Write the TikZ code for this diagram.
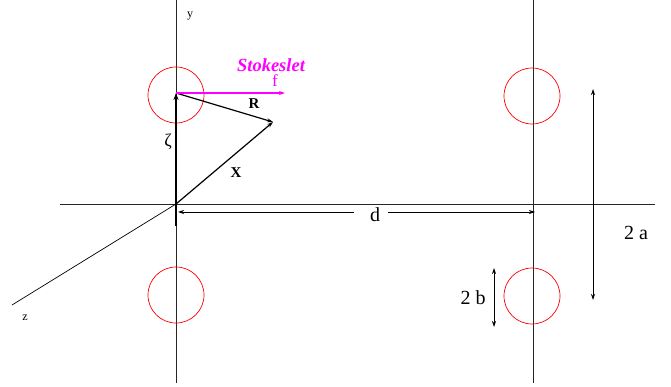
\documentclass[tikz,border=0pt]{standalone}
\usepackage{fontspec}
\setmainfont{Liberation Serif}
\usetikzlibrary{arrows.meta}
\definecolor{mag}{RGB}{255,0,255}
\begin{document}
\begin{tikzpicture}[x=1pt,y=-1pt,
  axis/.style={line width=0.8pt,black!85},
  ring/.style={red,line width=0.7pt},
  arr/.style={-{Stealth[length=6pt,width=4pt]},line width=0.8pt},
  darr/.style={{Stealth[length=6pt,width=4pt]}-{Stealth[length=6pt,width=4pt]},line width=0.8pt},
  vec/.style={-{Stealth[length=7pt,width=5pt]},line width=1.6pt},
  lbl/.style={inner sep=0pt}]
\useasboundingbox (0,0) rectangle (671,387);
% coordinates
\coordinate (O) at (176,204);
\coordinate (Ltop) at (176,0);
\coordinate (Lbot) at (176,383);
\coordinate (Rtop) at (533,0);
\coordinate (Rbot) at (533,383);
\coordinate (Hl) at (60,204);
\coordinate (Hr) at (655,204);
\coordinate (Zend) at (12,305);
\coordinate (P) at (176,93);
\coordinate (Q) at (273,122);
\coordinate (F) at (285,93);
\coordinate (Zs) at (176,226);
% axes
\draw[axis] (Ltop) -- (Lbot);
\draw[axis] (Rtop) -- (Rbot);
\draw[axis] (Hl) -- (Hr);
\draw[line width=0.7pt] (O) -- (Zend);
% circles
\draw[ring] (176,95) circle (28);
\draw[ring] (176,295) circle (28);
\draw[ring] (532,96) circle (28);
\draw[ring] (532,296) circle (28);
% labels
\node[lbl] (ylab) at (190,16) {\fontsize{12}{13}\selectfont y};
\node[lbl] (zlab) at (25,318) {\fontsize{12}{13}\selectfont z};
% vectors
\draw[vec] (Zs) -- (P);
\draw[arr,line width=1.2pt] (O) -- (Q);
\draw[arr,line width=1.2pt] (P) -- (Q);
\draw[arr,mag,line width=1.6pt] (P) -- (F);
\node[lbl] (zeta) at (168,142) {\fontsize{18}{19}\selectfont ζ};
\node[lbl] (Xl) at (236,173) {\fontsize{15}{16}\selectfont\bfseries X};
\node[lbl] (Rl) at (254,104) {\fontsize{15}{16}\selectfont\bfseries R};
\node[lbl,mag] (fl) at (275,81) {\fontsize{17}{18}\selectfont f};
\node[lbl,mag] (st) at (271,65) {\fontsize{18.5}{19}\selectfont\bfseries\itshape Stokeslet};
% d
\node[lbl] (d) at (375,215) {\fontsize{20}{21}\selectfont d};
\coordinate (dl) at (178,212);
\coordinate (dr) at (535,212);
\coordinate (dls) at (354,212);
\coordinate (drs) at (388,212);
\draw[arr] (dls) -- (dl);
\draw[arr] (drs) -- (dr);
% 2a
\coordinate (a1) at (593,89);
\coordinate (a2) at (593,300);
\draw[darr] (a1) -- (a2);
\node[lbl] (al) at (636,233) {\fontsize{20}{21}\selectfont 2 a};
% 2b
\coordinate (b1) at (494,268);
\coordinate (b2) at (494,327);
\draw[darr] (b1) -- (b2);
\node[lbl] (bl) at (473,298) {\fontsize{20}{21}\selectfont 2 b};
\end{tikzpicture}
\end{document}
